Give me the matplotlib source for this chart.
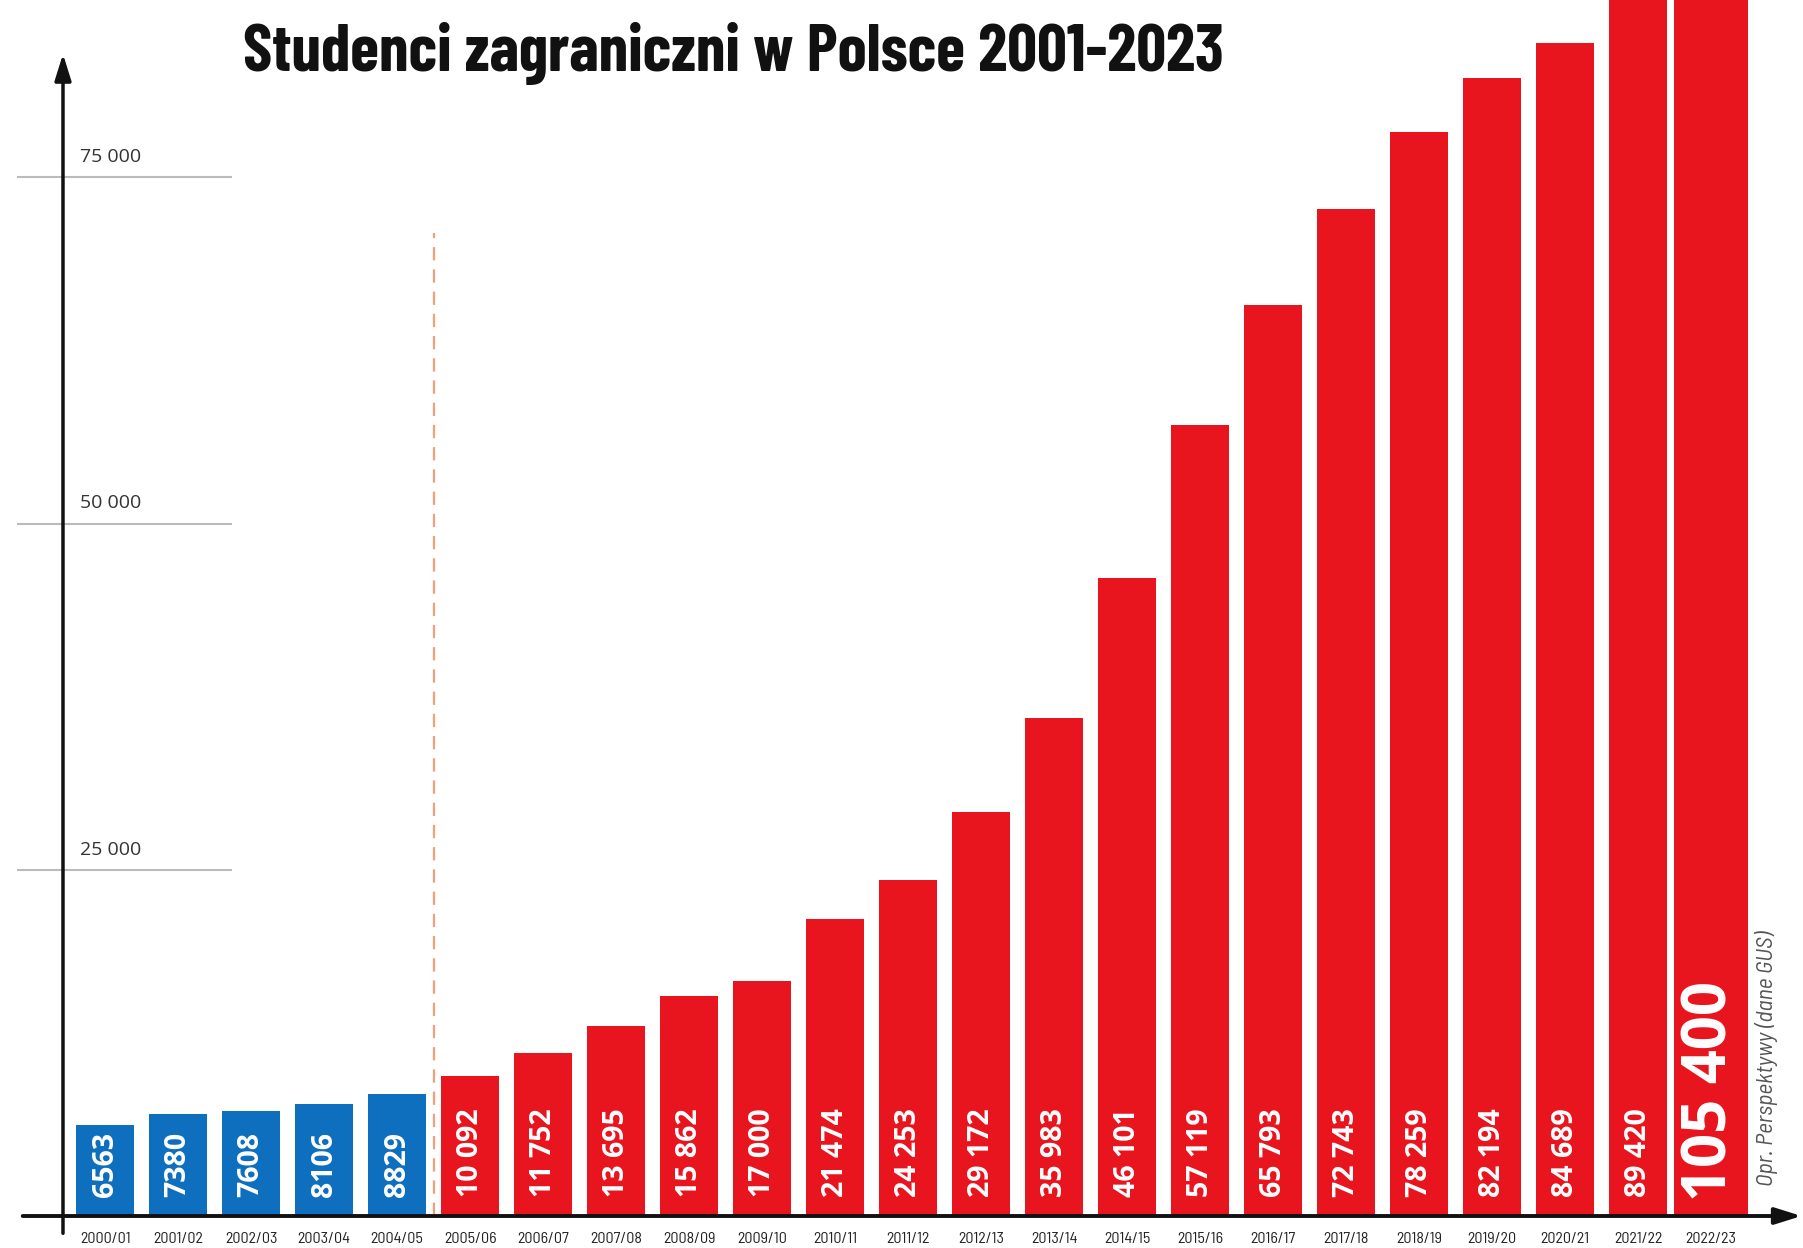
import numpy as np
import matplotlib
matplotlib.use("Agg")
import matplotlib.pyplot as plt

# dane
lata = ["2000/01", "2001/02", "2002/03", "2003/04", "2004/05", "2005/06",
        "2006/07", "2007/08", "2008/09", "2009/10", "2010/11", "2011/12",
        "2012/13", "2013/14", "2014/15", "2015/16", "2016/17", "2017/18",
        "2018/19", "2019/20", "2020/21", "2021/22", "2022/23"]
studenci = [6563, 7380, 7608, 8106, 8829, 10092, 11752, 13695, 15862, 17000,
            21474, 24253, 29172, 35983, 46101, 57119, 65793, 72743, 78259,
            82194, 84689, 89420, 105400]
siatka = [25000, 50000, 75000]
siatka_opisy = ["25 000", "50 000", "75 000"]
podzial = 4.5  # granica miedzy niebieskimi a czerwonymi

NIEBIESKI = "#0f6fbf"
CZERWONY = "#e8141e"
waski = ["Barlow Condensed", "DejaVu Sans"]
polwaski = ["Barlow Semi Condensed", "DejaVu Sans"]
zwykly = ["Open Sans", "DejaVu Sans"]


def formatuj(v):
    if v < 10000:
        return str(v)
    return f"{v:,}".replace(",", " ")


fig = plt.figure(figsize=(18.03, 12.48), dpi=100)
ax = fig.add_axes([0, 0, 1, 1])
ax.set_xlim(-1.441, 23.26)
ax.set_ylim(-2310, 87800)
ax.axis("off")

x = np.arange(len(lata))
kolory = [NIEBIESKI if i < podzial else CZERWONY for i in x]
szer = [0.8] * (len(lata) - 1) + [1.02]
ax.bar(x, studenci, width=szer, color=kolory, zorder=2)

# opisy w slupkach i pod osia
for i, v in enumerate(studenci):
    if i == len(studenci) - 1:
        ax.text(i, 1050, formatuj(v), rotation=90, ha="center", va="bottom",
                color="white", fontsize=43, fontweight="bold",
                family=zwykly, zorder=3)
    else:
        ax.text(i, 1350, formatuj(v), rotation=90, ha="center", va="bottom",
                color="white", fontsize=20.5, fontweight="bold",
                family=zwykly, zorder=3)
    ax.text(i, -1650, lata[i], ha="center", va="center", fontsize=11.5,
            family=polwaski, color="#222222")

# krotkie linie siatki
for y, opis in zip(siatka, siatka_opisy):
    ax.plot([-1.2, 1.72], [y, y], color="#bbbbbb", lw=1.5, zorder=1)
    ax.text(-0.35, y + 1450, opis, ha="left", va="center", fontsize=14,
            family=zwykly, color="#333333")

# linia przerywana
ax.plot([podzial, podzial], [0, 71000], color="#f2a07a", lw=1.6,
        ls=(0, (6, 4)), zorder=1)

# osie ze strzalkami
ax.annotate("", xy=(-0.578, 83900), xytext=(-0.578, -1250),
            arrowprops=dict(arrowstyle="-|>,head_length=1.6,head_width=0.5",
                            color="#111111", lw=2.5, shrinkA=0, shrinkB=0),
            zorder=4)
ax.annotate("", xy=(23.24, 0), xytext=(-1.13, 0),
            arrowprops=dict(arrowstyle="-|>,head_length=1.6,head_width=0.5",
                            color="#111111", lw=2.8, shrinkA=0, shrinkB=0),
            zorder=4)

ax.text(0.407, 0.957, "Studenci zagraniczni w Polsce 2001-2023",
        transform=fig.transFigure, ha="center", va="center", fontsize=47.5,
        fontweight="bold", family=waski, color="#111111")

ax.text(0.9795, 0.05, "Opr. Perspektywy (dane GUS)", transform=fig.transFigure,
        rotation=90, ha="center", va="bottom", fontsize=17, style="italic",
        family=polwaski, color="#555555")

fig.savefig("out.png", dpi=100)
